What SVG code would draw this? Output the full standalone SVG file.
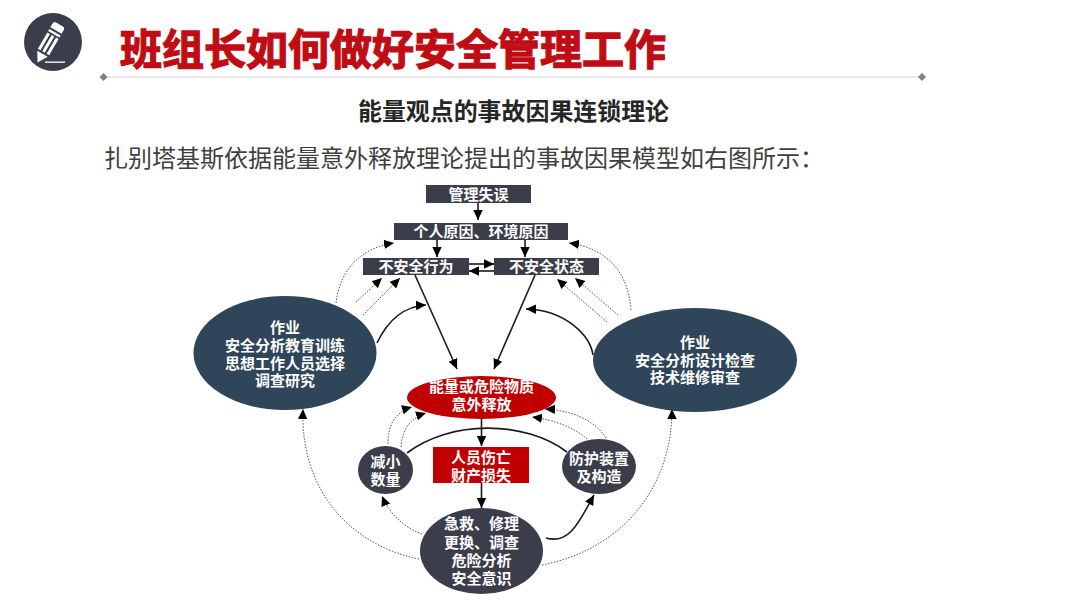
<svg xmlns="http://www.w3.org/2000/svg" width="1080" height="608" viewBox="0 0 1080 608">
<style>
text{font-family:"Liberation Sans","Noto Sans CJK SC",sans-serif}
.n{font-size:15px;font-weight:700;fill:#fff;text-anchor:middle}
.dark{fill:#3b3d4b}
.navy{fill:#2f4559}
.red{fill:#c00000}
.s{fill:none;stroke:#1a1a1a;stroke-width:1.6;marker-end:url(#a)}
.d{fill:none;stroke:#555;stroke-width:1;stroke-dasharray:1.5 1.5;marker-end:url(#a)}
</style>
<defs>
<marker id="a" markerUnits="userSpaceOnUse" markerWidth="11" markerHeight="11" refX="10" refY="5.500" orient="auto"><path d="M0 .8L10 5.500L0 10.200z" fill="#000"/></marker>
</defs>
<rect width="1080" height="608" fill="#fff"/>
<g id="icon">
<circle cx="53" cy="42" r="29" fill="#3b3d4b"/>
<g transform="translate(37.5 62.5) rotate(30)" fill="#fff">
<path d="M0 0L-6 -10H6z"/>
<path d="M-6.500 -12H-3.500V-31H-6.500zM-1.500 -12H1.500V-31H-1.500zM3.500 -12H6.500V-31H3.500z"/>
<rect x="-6.500" y="-35" width="13" height="2.500"/>
<path d="M-6.500 -37H6.500V-41Q6.500 -44 3.500 -44H-3.500Q-6.500 -44 -6.500 -41z"/>
</g>
<rect x="45" y="61.500" width="20" height="1.300" fill="#fff"/>
</g>
<g id="header">
<text x="120" y="65" font-size="42" font-weight="700" fill="#c00d14" stroke="#c00d14" stroke-width="1.300">班组长如何做好安全管理工作</text>
<path d="M103 77H922" stroke="#d4d0d0" stroke-width="1.200"/>
<path d="M103.500 73L107.500 77L103.500 81L99.500 77zM922 73L926 77L922 81L918 77z" fill="#808080"/>
<text x="358" y="120" font-size="24" font-weight="700" fill="#262626" textLength="311" lengthAdjust="spacingAndGlyphs">能量观点的事故因果连锁理论</text>
<text x="104" y="167" font-size="24" fill="#3f3f3f">扎别塔基斯依据能量意外释放理论提出的事故因果模型如右图所示：</text>
</g>
<g id="connectors">
<path class="s" d="M478 203V220"/>
<path class="s" d="M437 240V257"/>
<path class="s" d="M525 240V257"/>
<path class="s" d="M469 264H494"/>
<path class="s" d="M494 271H469"/>
<path class="s" d="M415 275L457 369"/>
<path class="s" d="M535 275L494 369"/>
<path class="s" d="M377 343C388 320 405 306 426 305"/>
<path class="s" d="M593 355C590 335 565 310 526 309"/>
<path class="d" d="M336 303C340 270 360 248 394 243"/>
<path class="d" d="M356 302L382 278"/>
<path class="d" d="M363 315L400 278"/>
<path class="d" d="M631 310C628 270 605 248 569 243"/>
<path class="d" d="M618 315L575 278"/>
<path class="d" d="M607 322L557 279"/>
<path class="d" d="M419 559C350 545 300 490 303 409"/>
<path class="d" d="M422 534C405 528 390 515 382 496"/>
<path class="d" d="M542 565C620 550 672 490 672 409"/>
<path class="s" d="M546 538C570 545 580 520 594 495"/>
<path class="d" d="M388 444C388 425 395 412 412 407"/>
<path class="d" d="M401 447C402 430 410 418 426 413"/>
<path class="d" d="M606 438C595 420 570 410 545 409"/>
<path class="d" d="M587 439C575 428 555 420 532 417"/>
<path d="M407 453C450 420 525 420 567 452" fill="none" stroke="#1a1a1a" stroke-width="1.600"/>
<path class="s" d="M481.500 419V446"/>
<path class="s" d="M481.500 483V508"/>
</g>
<g id="node-mgmt"><rect class="dark" x="426" y="185" width="105" height="18"/><text class="n" x="478.500" y="199.500">管理失误</text></g>
<g id="node-cause"><rect class="dark" x="394" y="223" width="174" height="17"/><text class="n" x="481" y="236.500">个人原因、环境原因</text></g>
<g id="node-act"><rect class="dark" x="363" y="258" width="106" height="17"/><text class="n" x="416" y="272">不安全行为</text></g>
<g id="node-state"><rect class="dark" x="494" y="258" width="105" height="17"/><text class="n" x="546.500" y="272">不安全状态</text></g>
<g id="node-left">
<ellipse class="navy" cx="285" cy="353" rx="91.500" ry="57"/>
<text class="n"><tspan x="285" y="332.500">作业</tspan><tspan x="285" y="350.500">安全分析教育训练</tspan><tspan x="285" y="368.500">思想工作人员选择</tspan><tspan x="285" y="386">调查研究</tspan></text>
</g>
<g id="node-right">
<ellipse class="navy" cx="695" cy="360" rx="102" ry="52"/>
<text class="n"><tspan x="695" y="347.500">作业</tspan><tspan x="695" y="365.500">安全分析设计检查</tspan><tspan x="695" y="383">技术维修审查</tspan></text>
</g>
<g id="node-energy">
<ellipse class="red" cx="481.500" cy="397.500" rx="74.500" ry="21.500"/>
<text class="n"><tspan x="481.500" y="392">能量或危险物质</tspan><tspan x="481.500" y="409.500">意外释放</tspan></text>
</g>
<g id="node-loss">
<rect class="red" x="433" y="447" width="96" height="36"/>
<text class="n"><tspan x="481" y="462.500">人员伤亡</tspan><tspan x="481" y="480.500">财产损失</tspan></text>
</g>
<g id="node-reduce">
<ellipse class="dark" cx="385.500" cy="470" rx="27.500" ry="24"/>
<text class="n"><tspan x="385.500" y="466.500">减小</tspan><tspan x="385.500" y="484.500">数量</tspan></text>
</g>
<g id="node-guard">
<ellipse class="dark" cx="599" cy="466.500" rx="37" ry="27.500"/>
<text class="n"><tspan x="599" y="463.500">防护装置</tspan><tspan x="599" y="481.500">及构造</tspan></text>
</g>
<g id="node-rescue">
<ellipse class="dark" cx="481.500" cy="551" rx="61.500" ry="43"/>
<text class="n"><tspan x="481.500" y="528.500">急救、修理</tspan><tspan x="481.500" y="547.500">更换、调查</tspan><tspan x="481.500" y="565.500">危险分析</tspan><tspan x="481.500" y="583.500">安全意识</tspan></text>
</g>
</svg>
